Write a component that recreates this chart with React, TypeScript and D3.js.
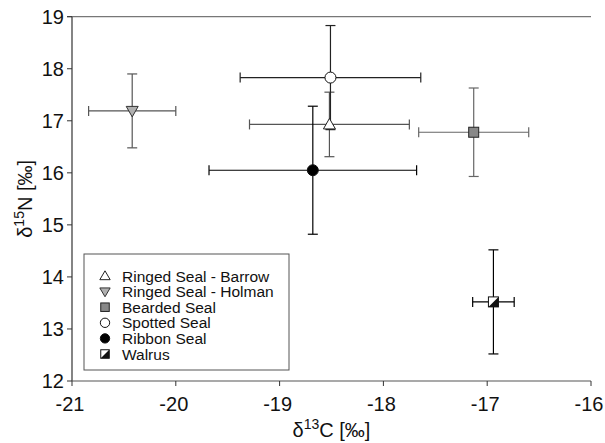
import React from "react";
import * as d3 from "d3";

const species = [
  "Ringed Seal - Barrow",
  "Ringed Seal - Holman",
  "Bearded Seal",
  "Spotted Seal",
  "Ribbon Seal",
  "Walrus",
];
const meanC = [-18.52, -20.42, -17.13, -18.51, -18.68, -16.94];
const sdC = [0.77, 0.42, 0.53, 0.87, 1.0, 0.2];
const meanN = [16.93, 17.19, 16.78, 17.83, 16.05, 13.52];
const sdN = [0.62, 0.71, 0.85, 1.0, 1.23, 1.0];
const markerShape = ["triUp", "triDown", "square", "circle", "circle", "half"];
const markerFill = ["#fff", "#b0b0b0", "#888", "#fff", "#000", "#fff"];
const barColor = ["#555", "#555", "#666", "#222", "#000", "#000"];
const xTicks = [-21, -20, -19, -18, -17, -16];
const yTicks = [12, 13, 14, 15, 16, 17, 18, 19];

const W = 605, H = 443;
const L = 72, R = 591, T = 16.7, B = 381;
const FONT = "Arial, 'Liberation Sans', Helvetica, sans-serif";

function Marker({ shape, fill, cx, cy, k = 1 }: { shape: string; fill: string; cx: number; cy: number; k?: number }) {
  const s = 5.5 * k;
  const h = 5 * k;
  if (shape === "circle") return <circle cx={cx} cy={cy} r={5.5 * k} fill={fill} stroke="#111" strokeWidth={1} />;
  if (shape === "square")
    return <rect x={cx - h} y={cy - h} width={2 * h} height={2 * h} fill={fill} stroke="#222" strokeWidth={1} />;
  if (shape === "triUp")
    return (
      <path d={`M${cx},${cy - s - 0.5} L${cx + s + 0.5},${cy + s - 1} L${cx - s - 0.5},${cy + s - 1} Z`} fill={fill} stroke="#222" strokeWidth={1} />
    );
  if (shape === "triDown")
    return (
      <path d={`M${cx - s - 0.5},${cy - s + 1} L${cx + s + 0.5},${cy - s + 1} L${cx},${cy + s + 0.5} Z`} fill={fill} stroke="#333" strokeWidth={1} />
    );
  return (
    <g>
      <rect x={cx - h} y={cy - h} width={2 * h} height={2 * h} fill="#fff" stroke="#111" strokeWidth={1} />
      <path d={`M${cx - h},${cy + h} L${cx + h},${cy - h} L${cx + h},${cy + h} Z`} fill="#111" />
    </g>
  );
}

export default function App() {
  const x = d3.scaleLinear().domain([-21, -16]).range([L, R]);
  const y = d3.scaleLinear().domain([12, 19]).range([B, T]);
  const cap = 5;

  const legX = 84, legY = 254, legW = 205, legH = 116;
  const rowY0 = 276, rowStep = 15.6;

  return (
    <svg width={W} height={H} style={{ position: "absolute", left: 0, top: 0, background: "#fff" }} fontFamily={FONT}>
      <line x1={L - 5} x2={R} y1={T} y2={T} stroke="#777" strokeWidth={1.2} />
      <line x1={L} x2={L} y1={T} y2={B} stroke="#333" strokeWidth={1.2} />
      <line x1={L} x2={R} y1={B} y2={B} stroke="#555" strokeWidth={1.2} />
      {xTicks.map((t) => (
        <g key={"x" + t}>
          <line x1={x(t)} x2={x(t)} y1={B} y2={B + 5} stroke="#333" strokeWidth={1} />
          <text x={x(t) - 2} y={B + 30} fontSize={20} textAnchor="middle" fill="#111">
            {t}
          </text>
        </g>
      ))}
      {yTicks.map((t) => (
        <g key={"y" + t}>
          <line x1={L - 5} x2={L} y1={y(t)} y2={y(t)} stroke="#333" strokeWidth={1} />
          <text x={L - 8} y={y(t) + 7} fontSize={20} textAnchor="end" fill="#111">
            {t}
          </text>
        </g>
      ))}
      <text x={(L + R) / 2} y={437} fontSize={20} textAnchor="middle" fill="#111">
        δ<tspan fontSize={14} dy={-8}>13</tspan>
        <tspan dy={8}>C [‰]</tspan>
      </text>
      <text transform={`translate(32, ${(T + B) / 2}) rotate(-90)`} fontSize={20} textAnchor="middle" fill="#111">
        δ<tspan fontSize={14} dy={-8}>15</tspan>
        <tspan dy={8}>N [‰]</tspan>
      </text>

      {species.map((sp, i) => {
        const cx = x(meanC[i]), cy = y(meanN[i]);
        const x0 = x(meanC[i] - sdC[i]), x1 = x(meanC[i] + sdC[i]);
        const y0 = y(meanN[i] + sdN[i]), y1 = y(meanN[i] - sdN[i]);
        const c = barColor[i];
        return (
          <g key={"e" + sp} stroke={c} strokeWidth={1.2}>
            <line x1={x0} x2={x1} y1={cy} y2={cy} />
            <line x1={x0} x2={x0} y1={cy - cap} y2={cy + cap} />
            <line x1={x1} x2={x1} y1={cy - cap} y2={cy + cap} />
            <line x1={cx} x2={cx} y1={y0} y2={y1} />
            <line x1={cx - cap} x2={cx + cap} y1={y0} y2={y0} />
            <line x1={cx - cap} x2={cx + cap} y1={y1} y2={y1} />
          </g>
        );
      })}
      {[4, 3, 2, 1, 5, 0].map((i) => (
        <Marker key={"m" + i} shape={markerShape[i]} fill={markerFill[i]} cx={x(meanC[i])} cy={y(meanN[i])} />
      ))}

      <rect x={legX} y={legY} width={legW} height={legH} fill="#fff" stroke="#555" strokeWidth={1} />
      {species.map((sp, i) => {
        const ry = rowY0 + i * rowStep;
        return (
          <g key={"l" + sp}>
            <Marker shape={markerShape[i]} fill={markerFill[i]} cx={105} cy={ry} k={0.85} />
            <text x={122} y={ry + 5.5} fontSize={15.5} fill="#111">
              {sp}
            </text>
          </g>
        );
      })}
    </svg>
  );
}
